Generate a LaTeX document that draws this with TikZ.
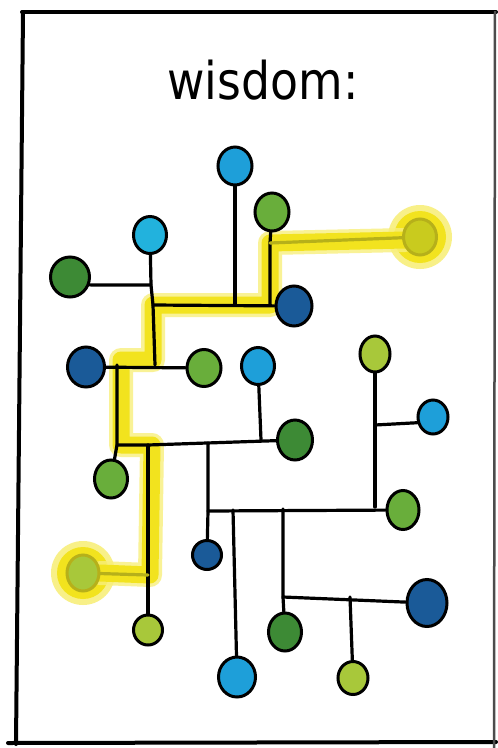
\documentclass[tikz,border=0pt]{standalone}
\usepackage{fontspec}
\setmainfont{DejaVu Sans}
\usetikzlibrary{shapes.geometric,calc}
\definecolor{lblue}{HTML}{1E9FD9}
\definecolor{cyanb}{HTML}{22B2DD}
\definecolor{dblue}{HTML}{1A5A98}
\definecolor{mgreen}{HTML}{69AE3B}
\definecolor{dgreen}{HTML}{3D8A35}
\definecolor{lgreen}{HTML}{A8C83A}
\definecolor{olive}{HTML}{C9CB1E}
\definecolor{oliveline}{HTML}{B6B01A}
\definecolor{hilite}{HTML}{F2E31E}
\definecolor{hisoft}{HTML}{F8EF7C}
\tikzset{
  dot/.style={ellipse, draw=black, line width=3pt, inner sep=0pt, minimum width=34pt, minimum height=38pt, fill=#1},
  wire/.style={draw=black, line width=3.2pt, line cap=round, line join=round},
  owire/.style={draw=oliveline, line width=3.2pt, line cap=round},
  glowsoft/.style={draw=hisoft, line width=24pt, line join=round, line cap=round, opacity=0.8},
  glow/.style={draw=hilite, line width=17pt, line join=round, line cap=round},
  frameline/.style={draw=black, line width=4pt, line cap=round}
}
\begin{document}
\begin{tikzpicture}[x=1pt,y=-1pt]
\useasboundingbox (0,0) rectangle (498,748);
\fill[white] (0,0) rectangle (498,748);
% frame
\draw[frameline] (22,12) -- (496,12);
\draw[frameline] (23,12) -- (16,744);
\draw[frameline] (8,743) -- (496,742);
\draw[draw=black!70, line width=2.5pt] (495,11) -- (494,748);
% title
\node (title) at (263,80) {\scalebox{0.88}[1]{\fontsize{52pt}{52pt}\selectfont wisdom:}};
% junction coordinates
\coordinate (A) at (270,243);
\coordinate (B) at (270,305);
\coordinate (C) at (153,305);
\coordinate (J1) at (235,304);
\coordinate (P) at (151,285);
\coordinate (D) at (155,365);
\coordinate (E) at (117,365);
\coordinate (F) at (117,445);
\coordinate (G) at (148,445);
\coordinate (H) at (148,575);
\coordinate (K) at (208,443);
\coordinate (L) at (261,440);
\coordinate (M) at (208,511);
\coordinate (N) at (233,510);
\coordinate (O) at (283,509);
\coordinate (Q) at (375,507);
\coordinate (R) at (375,425);
\coordinate (S) at (283,597);
\coordinate (T) at (350,597);
% halos
\fill[hisoft, opacity=0.9] (420,237) circle (32pt);
\fill[hilite] (420,237) circle (26pt);
\fill[hisoft, opacity=0.9] (83,573) circle (32pt);
\fill[hilite] (83,573) circle (26pt);
% highlighted path
\draw[glowsoft] (405,240) -- (A) -- (B) -- (C) -- (153,360) -- (121,360) -- (121,445) -- (152,445) -- (150,575) -- (100,573);
\draw[glow] (405,240) -- (A) -- (B) -- (C) -- (153,360) -- (121,360) -- (121,445) -- (152,445) -- (150,575) -- (100,573);
% nodes
\node[dot=lblue] (n1) at (235,166) {};
\node[dot=mgreen] (n2) at (272,212) {};
\node[dot=olive, draw=oliveline, minimum width=33pt, minimum height=36pt] (n3) at (420,237) {};
\node[dot=cyanb, minimum width=33pt, minimum height=37pt] (n4) at (150,235) {};
\node[dot=dgreen, minimum width=39pt, minimum height=40pt] (n5) at (70,277) {};
\node[dot=dblue, minimum width=36pt, minimum height=40pt] (n6) at (294,306) {};
\node[dot=dblue, minimum width=37pt, minimum height=40pt] (n7) at (86,367) {};
\node[dot=mgreen, minimum width=34pt, minimum height=37pt] (n8) at (204,368) {};
\node[dot=lblue, minimum width=33pt, minimum height=37pt] (n9) at (258,366) {};
\node[dot=lgreen, minimum width=30pt, minimum height=36pt] (n10) at (375,354) {};
\node[dot=lblue, minimum width=30pt, minimum height=34pt] (n11) at (433,417) {};
\node[dot=dgreen, minimum width=35pt, minimum height=40pt] (n12) at (295,440) {};
\node[dot=mgreen, minimum width=33pt, minimum height=38pt] (n13) at (111,479) {};
\node[dot=mgreen, minimum width=32pt, minimum height=39pt] (n14) at (403,510) {};
\node[dot=dblue, minimum width=29pt, minimum height=29pt] (n15) at (207,555) {};
\node[dot=lgreen, draw=oliveline, minimum width=32pt, minimum height=36pt] (n16) at (83,573) {};
\node[dot=dblue, minimum width=40pt, minimum height=47pt] (n17) at (427,603) {};
\node[dot=lgreen, minimum width=29pt, minimum height=30pt] (n18) at (148,630) {};
\node[dot=dgreen, minimum width=33pt, minimum height=38pt] (n19) at (285,632) {};
\node[dot=lblue, minimum width=37pt, minimum height=40pt] (n20) at (237,677) {};
\node[dot=lgreen, minimum width=30pt, minimum height=33pt] (n21) at (353,678) {};
% connectors
\draw[wire] (n1) -- (J1);
\draw[wire] (n2) -- (A) -- (B);
\draw[owire] (A) -- (n3);
\draw[wire] (n4) -- (P) -- (C);
\draw[wire] (P) -- (n5.-22);
\draw[wire] (C) -- (n6);
\draw[wire] (C) -- (D);
\draw[wire] (n7) -- (n8);
\draw[wire] (E) -- (F) -- (n13);
\draw[wire] (F) -- (G) -- (n12);
\draw[wire] (G) -- (H) -- (n18);
\draw[owire] (H) -- (n16);
\draw[wire] (n9) -- (L);
\draw[wire] (K) -- (M) -- (n15);
\draw[wire] (M) -- (n14);
\draw[wire] (n10) -- (Q);
\draw[wire] (R) -- (n11.-160);
\draw[wire] (N) -- (n20);
\draw[wire] (O) -- (S) -- (n19);
\draw[wire] (S) -- (n17);
\draw[wire] (T) -- (n21);
\end{tikzpicture}
\end{document}
